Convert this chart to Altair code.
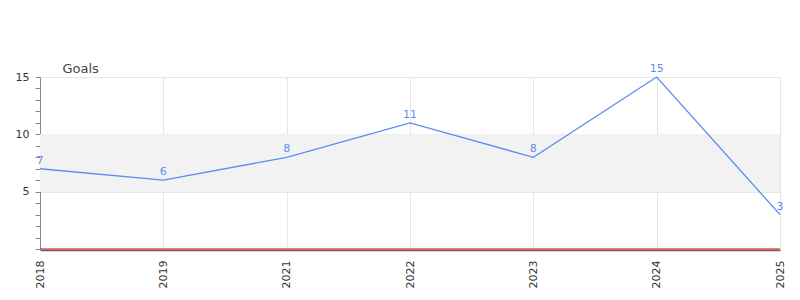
import altair as alt
import pandas as pd

years = ["2018", "2019", "2021", "2022", "2023", "2024", "2025"]
goals = [7, 6, 8, 11, 8, 15, 3]
band_low = [5]
band_high = [10]
baseline_value = [0]
y_ticks = list(range(0, 16))

df = pd.DataFrame({"year": years, "goals": goals})
band_df = pd.DataFrame({"lo": band_low, "hi": band_high})
zero_df = pd.DataFrame({"zero": baseline_value})

LINE = "#5b8def"
major = "datum.value % 5 === 0"

y_scale = alt.Scale(domain=[0, 15], nice=False, zero=True)
y_axis = alt.Axis(
    title="Goals",
    titleAngle=0,
    titleAlign="left",
    titleBaseline="alphabetic",
    titleX=22,
    titleY=-5,
    titleFontSize=13,
    titleFontWeight="normal",
    titleColor="#444444",
    values=y_ticks,
    labelExpr="datum.value % 5 === 0 && datum.value > 0 ? datum.label : ''",
    labelFontSize=11,
    labelColor="#333333",
    labelPadding=6,
    tickSize=5,
    tickColor="#888888",
    domainColor="#888888",
    grid=True,
    gridColor="#e6e6e6",
    gridOpacity={"condition": {"test": major, "value": 1}, "value": 0},
)

x_enc = alt.X(
    "year:O",
    sort=years,
    scale=alt.Scale(type="point", padding=0),
    axis=alt.Axis(
        title=None,
        labelAngle=-90,
        labelFontSize=11,
        labelColor="#333333",
        labelPadding=10,
        ticks=False,
        offset=1,
        domainColor="#666666",
        domainWidth=1.5,
        grid=True,
        gridColor="#e6e6e6",
    ),
)

band = alt.Chart(band_df).mark_rect(color="#f2f2f2").encode(
    y=alt.Y("lo:Q", scale=y_scale, axis=y_axis),
    y2="hi:Q",
    x=alt.value(0),
    x2=alt.value(740),
)

line = alt.Chart(df).mark_line(color=LINE, strokeWidth=1.3).encode(
    x=x_enc,
    y=alt.Y("goals:Q", scale=y_scale, axis=y_axis),
)

labels = alt.Chart(df).mark_text(
    color=LINE, fontSize=11, baseline="bottom", dy=-3, font="DejaVu Sans"
).encode(
    x=x_enc,
    y=alt.Y("goals:Q", scale=y_scale, axis=y_axis),
    text="goals:Q",
)

zero_rule = alt.Chart(zero_df).mark_rule(color="#e00000", strokeWidth=1).encode(
    y=alt.Y("zero:Q", scale=y_scale, axis=y_axis),
    x=alt.value(0),
    x2=alt.value(740),
)

chart = (
    alt.layer(band, line, labels, zero_rule)
    .properties(
        width=740,
        height=172,
        padding={"left": 40, "top": 77, "right": 20, "bottom": 51},
        autosize="none",
    )
    .configure(font="DejaVu Sans")
    .configure_view(stroke=None)
)

chart.save("out.html", embed_options={"renderer": "svg", "actions": False})
